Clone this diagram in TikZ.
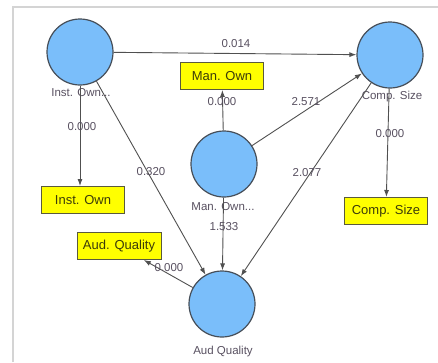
\documentclass[tikz,border=0pt]{standalone}
\usepackage{fontspec}
\setmainfont{Liberation Sans}
\usepackage{tikz}
\usetikzlibrary{arrows.meta}
\tikzset{>={Latex[length=7pt,width=5pt]}}
\definecolor{latblue}{RGB}{122,190,250}
\definecolor{latline}{RGB}{70,78,88}
\definecolor{indyellow}{RGB}{255,255,0}
\definecolor{indline}{RGB}{90,90,60}
\definecolor{indtext}{RGB}{60,60,10}
\definecolor{pathtext}{RGB}{88,80,96}
\definecolor{conngray}{RGB}{80,80,80}
\definecolor{framegray}{RGB}{212,212,212}
\tikzset{
  latent/.style={circle,draw=latline,line width=1.2pt,fill=latblue,minimum size=66pt,inner sep=0pt},
  indicator/.style={rectangle,draw=indline,line width=1pt,fill=indyellow,text=indtext,
    minimum width=83pt,minimum height=27pt,inner sep=0pt,font=\fontsize{13}{15}\selectfont},
  latname/.style={text=pathtext,inner sep=0pt,font=\fontsize{11.5}{13}\selectfont},
  coef/.style={text=pathtext,inner sep=0pt,font=\fontsize{11.5}{13}\selectfont},
  conn/.style={->,draw=conngray,line width=0.9pt}
}
\begin{document}
\begin{tikzpicture}[x=1pt,y=-1pt]
            \useasboundingbox (0,0) rectangle (438,362);
            \draw[framegray,line width=1.8pt] (13,362) -- (13,7) -- (438,7);
            % constructs
            \node[latent] (instown) at (80,52) {};
            \node[latent] (compsize) at (390,55) {};
            \node[latent] (manown) at (224,164) {};
            \node[latent] (audqual) at (222,304) {};
            \node[latname] (instname) at (81,93) {Inst. Own...};
            \node[latname] (compname) at (392,97) {Comp. Size};
            \node[latname] (manname) at (223,207) {Man. Own...};
            \node[latname] (audname) at (223,352) {Aud Quality};
            % indicators
            \node[indicator] (instbox) at (83,200) {Inst. Own};
            \node[indicator] (compbox) at (386,211) {Comp. Size};
            \node[indicator] (manbox) at (222,76) {Man. Own};
            \node[indicator,minimum width=84pt] (audbox) at (119,246) {Aud. Quality};
            % paths
            \draw[conn] (instown) -- (compsize);
            \draw[conn] (instown) -- (instown |- instbox.north);
            \draw[conn] (instown) -- (audqual);
            \draw[conn] (manown) -- (manbox);
            \draw[conn] (manown) -- (compsize);
            \draw[conn] (manown) -- (audqual);
            \draw[conn] (compsize) -- (audqual);
            \draw[conn] (compsize) -- (compbox);
            \draw[conn] (audqual) -- (audbox);
            % coefficients
            \node[coef] (c1) at (236,44) {0.014};
            \node[coef] (c2) at (82,127) {0.000};
            \node[coef] (c3) at (151,172) {0.320};
            \node[coef] (c4) at (222,102) {0.000};
            \node[coef] (c5) at (306,102) {2.571};
            \node[coef] (c6) at (307,173) {2.077};
            \node[coef] (c7) at (390,134) {0.000};
            \node[coef] (c8) at (224,227) {1.533};
            \node[coef] (c9) at (169,268) {0.000};
        \end{tikzpicture}
\end{document}
